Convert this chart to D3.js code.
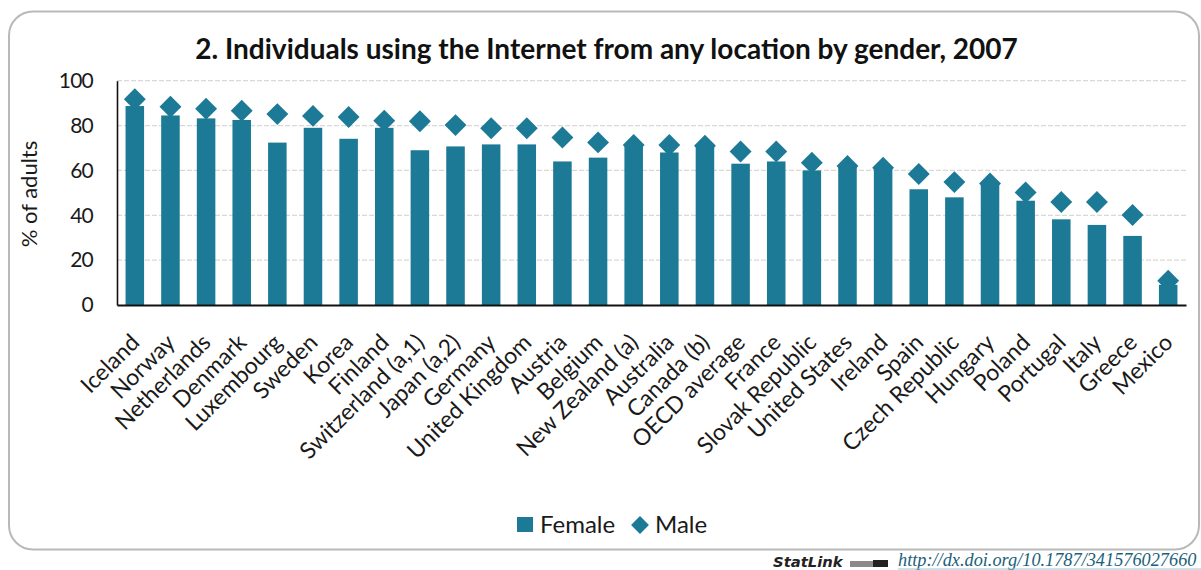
<!DOCTYPE html>
<html>
<head>
<meta charset="utf-8">
<script src="https://cdn.jsdelivr.net/npm/d3@7"></script>
<style>
  html, body { margin: 0; padding: 0; background: #fff; overflow: hidden; }
  text { font-family: Lato, "Open Sans", sans-serif; fill: #1a1a1a; }
</style>
</head>
<body>
<svg id="chart" width="1201" height="570"></svg>
<script>
'use strict';

var countries = ['Iceland', 'Norway', 'Netherlands', 'Denmark', 'Luxembourg', 'Sweden', 'Korea', 'Finland',
  'Switzerland (a,1)', 'Japan (a,2)', 'Germany', 'United Kingdom', 'Austria', 'Belgium', 'New Zealand (a)',
  'Australia', 'Canada (b)', 'OECD average', 'France', 'Slovak Republic', 'United States', 'Ireland', 'Spain',
  'Czech Republic', 'Hungary', 'Poland', 'Portugal', 'Italy', 'Greece', 'Mexico'];

var female = [88.7, 84.5, 83.2, 82.5, 72.4, 79, 74.1, 79, 69, 70.7, 71.6, 71.6, 64, 65.7, 71,
  68, 71, 63, 64, 60, 62, 61, 51.6, 48, 54, 46.5, 38.2, 35.7, 30.8, 9];

var male = [91.7, 88.4, 87.5, 86.6, 85.1, 84.3, 83.8, 82.2, 81.9, 80.2, 78.8, 78.8, 74.7, 72.5, 71.3,
  71.3, 71, 68.4, 68.4, 63.4, 62, 61.2, 58.4, 54.8, 54.2, 50.2, 45.9, 45.9, 40.1, 10.8];

var yTicks = [0, 20, 40, 60, 80, 100];
var teal = '#1c7a96';

var svg = d3.select('#chart');

//outer frame
svg.append('rect')
  .attr('x', 9).attr('y', 11.5)
  .attr('width', 1190).attr('height', 538)
  .attr('rx', 24).attr('ry', 24)
  .attr('fill', '#fff')
  .attr('stroke', '#b9b9b9')
  .attr('stroke-width', 2);

svg.append('text')
  .attr('x', 606.5).attr('y', 59)
  .attr('text-anchor', 'middle')
  .style('font-size', '28px')
  .style('font-weight', 700)
  .style('fill', '#111')
  .text('2. Individuals using the Internet from any location by gender, 2007');

var x = d3.scaleBand().domain(countries).range([117, 1186]).paddingInner(0.48).paddingOuter(0.24);
var y = d3.scaleLinear().domain([0, 100]).range([305, 80.7]);

//dashed gridlines, drawn under the bars
svg.append('g')
  .selectAll('line')
  .data(yTicks.slice(1))
  .enter()
  .append('line')
  .attr('x1', 117).attr('x2', 1186)
  .attr('y1', function (d) { return y(d); })
  .attr('y2', function (d) { return y(d); })
  .attr('stroke', '#dcd8d7')
  .attr('stroke-width', 1.2)
  .attr('stroke-dasharray', '5 2');

svg.append('g')
  .selectAll('rect')
  .data(female)
  .enter()
  .append('rect')
  .attr('x', function (d, i) { return x(countries[i]); })
  .attr('y', function (d) { return y(d); })
  .attr('width', x.bandwidth())
  .attr('height', function (d) { return y(0) - y(d); })
  .attr('fill', teal);

var diamond = d3.symbol().type(d3.symbolSquare).size(240);

svg.append('g')
  .selectAll('path')
  .data(male)
  .enter()
  .append('path')
  .attr('d', diamond)
  .attr('transform', function (d, i) {
    return 'translate(' + (x(countries[i]) + x.bandwidth() / 2) + ',' + y(d) + ') rotate(45)';
  })
  .attr('fill', teal);

//axes
var yAxis = svg.append('g')
  .attr('transform', 'translate(117,0)')
  .call(d3.axisLeft(y).tickValues(yTicks).tickSize(0).tickPadding(24));
yAxis.select('.domain').attr('stroke', '#111').attr('stroke-width', 1.6);
yAxis.selectAll('text')
  .style('font-size', '21px')
  .style('font-family', 'Lato')
  .style('letter-spacing', '-0.8px')
  .attr('fill', '#1a1a1a');

var xAxis = svg.append('g')
  .attr('transform', 'translate(0,305)')
  .call(d3.axisBottom(x).tickSize(0));
xAxis.select('.domain').attr('stroke', '#111').attr('stroke-width', 1.8);
xAxis.selectAll('text')
  .attr('text-anchor', 'end')
  .attr('x', 0).attr('y', 0).attr('dy', 0)
  .attr('transform', 'translate(6,39) rotate(-45)')
  .style('font-size', '23px')
  .style('font-family', 'Lato')
  .attr('fill', '#1a1a1a');

svg.append('text')
  .attr('transform', 'translate(37,194) rotate(-90)')
  .attr('text-anchor', 'middle')
  .style('font-size', '22px')
  .text('% of adults');

//legend
var legend = svg.append('g');
legend.append('rect')
  .attr('x', 517).attr('y', 517)
  .attr('width', 16).attr('height', 15)
  .attr('fill', teal);
legend.append('text')
  .attr('x', 540).attr('y', 533)
  .style('font-size', '24px')
  .text('Female');
legend.append('path')
  .attr('d', d3.symbol().type(d3.symbolSquare).size(160))
  .attr('transform', 'translate(640,525) rotate(45)')
  .attr('fill', teal);
legend.append('text')
  .attr('x', 655).attr('y', 533)
  .style('font-size', '24px')
  .text('Male');

//statlink footer
svg.append('text')
  .attr('x', 773).attr('y', 567)
  .style('font-size', '14.8px')
  .style('font-weight', 700)
  .style('font-style', 'italic')
  .style('font-family', '"DejaVu Sans"')
  .style('fill', '#222')
  .text('StatLink');
svg.append('rect')
  .attr('x', 850).attr('y', 561)
  .attr('width', 25).attr('height', 6)
  .attr('fill', '#8a8a8a');
svg.append('rect')
  .attr('x', 873).attr('y', 560)
  .attr('width', 15).attr('height', 7)
  .attr('fill', '#222');
svg.append('text')
  .attr('x', 898).attr('y', 566)
  .style('font-size', '18.3px')
  .style('font-style', 'italic')
  .style('font-family', '"Liberation Serif"')
  .style('fill', '#1c5f7a')
  .text('http://dx.doi.org/10.1787/341576027660');
svg.append('line')
  .attr('x1', 898).attr('x2', 1201)
  .attr('y1', 569).attr('y2', 569)
  .attr('stroke', '#9dc4d2')
  .attr('stroke-width', 1);
</script>
</body>
</html>
